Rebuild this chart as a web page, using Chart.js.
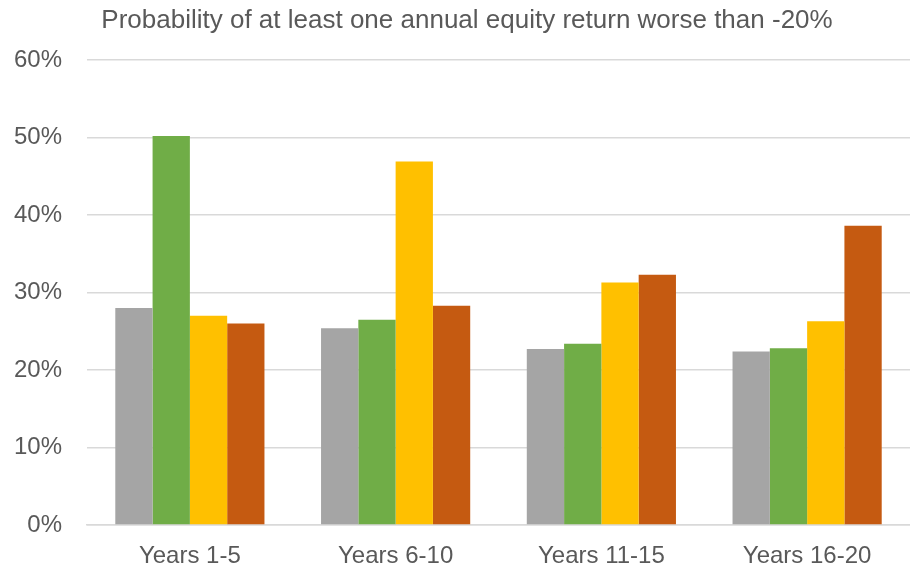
<!DOCTYPE html>
<html>
<head>
<meta charset="utf-8">
<script src="https://cdn.jsdelivr.net/npm/chart.js@4.4.1/dist/chart.umd.min.js"></script>
<style>
  html, body { margin: 0; padding: 0; background: #fff; }
  #wrap { width: 910px; height: 569px; }
</style>
</head>
<body>
<div id="wrap"><canvas id="equityChart" width="910" height="569"></canvas></div>
<script>
// values (%)
const titleText = 'Probability of at least one annual equity return worse than -20%';
const periods = ['Years 1-5', 'Years 6-10', 'Years 11-15', 'Years 16-20'];
const seriesNames = ['Series 1', 'Series 2', 'Series 3', 'Series 4'];
const grayVals = [28.0, 25.4, 22.7, 22.4];
const greenVals = [50.2, 26.5, 23.4, 22.8];
const yellowVals = [27.0, 46.9, 31.3, 26.3];
const orangeVals = [26.0, 28.3, 32.3, 38.6];
const barColors = ['#A5A5A5', '#70AD47', '#FFC000', '#C55A11'];

const textColor = '#595959';
const fontFamily = '"Liberation Sans", Arial, sans-serif';

// title drawn by hand so it can sit off-centre like the original
const titleDraw = {
  id: 'titleDraw',
  afterDraw(chart) {
    const c = chart.ctx;
    c.save();
    c.fillStyle = textColor;
    c.font = '26px ' + fontFamily;
    c.textAlign = 'center';
    c.textBaseline = 'alphabetic';
    c.fillText(titleText, 467, 28);
    c.restore();
  }
};

const allVals = [grayVals, greenVals, yellowVals, orangeVals];

new Chart(document.getElementById('equityChart'), {
  type: 'bar',
  data: {
    labels: periods,
    datasets: allVals.map((vals, i) => ({
      label: seriesNames[i],
      data: vals,
      backgroundColor: barColors[i],
      borderWidth: 0,
      categoryPercentage: 0.725,
      barPercentage: 1.0
    }))
  },
  options: {
    responsive: false,
    animation: false,
    layout: { padding: { top: 60, right: 0, bottom: 0, left: 0 } },
    plugins: {
      legend: { display: false },
      tooltip: { enabled: false }
    },
    scales: {
      x: {
        grid: { display: false, drawTicks: false },
        border: { display: true, color: '#d9d9d9', width: 1.5 },
        ticks: {
          color: textColor,
          font: { family: fontFamily, size: 24 },
          padding: 17
        },
        afterFit(axis) { axis.height = 44; }
      },
      y: {
        min: 0,
        max: 60,
        grid: { color: '#d9d9d9', lineWidth: 1.5, drawTicks: false },
        border: { display: false },
        ticks: {
          stepSize: 10,
          color: textColor,
          font: { family: fontFamily, size: 24 },
          padding: 25,
          callback: v => v + '%'
        },
        afterFit(axis) { axis.width = 87; }
      }
    }
  },
  plugins: [titleDraw]
});
</script>
</body>
</html>
